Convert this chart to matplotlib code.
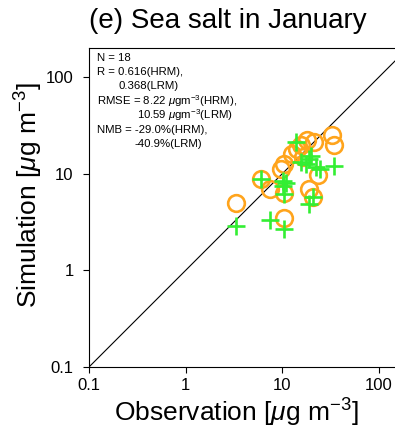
import numpy as np
import matplotlib.pyplot as plt

plt.rcParams['font.family'] = ['Liberation Sans', 'DejaVu Sans']
plt.rcParams['mathtext.fontset'] = 'custom'
plt.rcParams['mathtext.rm'] = 'Liberation Sans'
plt.rcParams['mathtext.it'] = 'Liberation Sans:italic'

# HRM (orange circles)
hrm_obs = [3.3, 6.0, 7.5, 9.8, 10.5, 10.5, 10.5, 12.7, 14.3, 16.5,
           18.2, 21.5, 32.4, 34.0, 23.7, 18.7, 21.0, 15.8]
hrm_sim = [5.0, 8.9, 7.0, 11.3, 12.7, 6.3, 3.5, 16.1, 18.2, 15.0,
           22.1, 21.5, 24.9, 20.0, 9.8, 7.0, 5.8, 19.6]
# LRM (green crosses)
lrm_obs = [3.3, 6.0, 7.5, 10.2, 10.2, 10.5, 10.5, 14.0, 15.8, 18.7,
           20.0, 22.6, 24.3, 34.0, 18.7, 21.0, 17.5, 11.0]
lrm_sim = [2.9, 8.9, 3.3, 8.5, 7.5, 6.2, 2.7, 21.5, 13.3, 14.3,
           15.4, 11.8, 11.3, 12.1, 4.9, 5.8, 12.5, 8.0]

stats = ['N = 18',
         'R = 0.616(HRM),',
         '0.368(LRM)',
         r'RMSE = 8.22 $\mu$gm$^{-3}$(HRM),',
         r'10.59 $\mu$gm$^{-3}$(LRM)',
         'NMB = -29.0%(HRM),',
         '-40.9%(LRM)']
stats_x = [0.025, 0.025, 0.094, 0.025, 0.150, 0.025, 0.144]
stats_drop = [13, 27, 41, 56.5, 71, 84.5, 98.5]  # px below top spine
lim = (0.1, 200)

fig = plt.figure(figsize=(3.95, 4.29), dpi=100)
ax = fig.add_axes([0.2253, 0.1445, 0.8076, 0.7436])
ax.set_xscale('log')
ax.set_yscale('log')
ax.set_xlim(lim)
ax.set_ylim(lim)

ax.plot(lim, lim, color='black', lw=0.8, zorder=1)
ax.plot(hrm_obs, hrm_sim, 'o', ms=12, mfc='none', mec='#FFA41C', mew=1.9, zorder=2)
ax.plot(lrm_obs, lrm_sim, '+', ms=12.5, mec='#33EE33', mew=1.9, zorder=3)

ticks = [0.1, 1, 10, 100]
ax.set_xticks(ticks)
ax.set_yticks(ticks)
ax.set_xticklabels(['0.1', '1', '10', '100'])
ax.set_yticklabels(['0.1', '1', '10', '100'])
ax.minorticks_off()
ax.tick_params(labelsize=12, length=4, width=0.8)
ax.tick_params(axis='x', pad=4)
ax.tick_params(axis='y', pad=7)
for s in ax.spines.values():
    s.set_linewidth(0.8)

ax_h = 0.7436 * 429
for line, x, d in zip(stats, stats_x, stats_drop):
    ax.text(x, 1 - d / ax_h, line, transform=ax.transAxes,
            fontsize=8.2, va='baseline', ha='left')

fig.text(0.577, 0.952, '(e) Sea salt in January', fontsize=20, ha='center', va='center')
fig.text(0.599, 0.038, r'Observation [$\mu$g m$^{-3}$]', fontsize=19, ha='center', va='center')
fig.text(0.072, 0.545, r'Simulation [$\mu$g m$^{-3}$]', fontsize=19, ha='center', va='center',
         rotation=90)

fig.savefig('out.png', dpi=100)
